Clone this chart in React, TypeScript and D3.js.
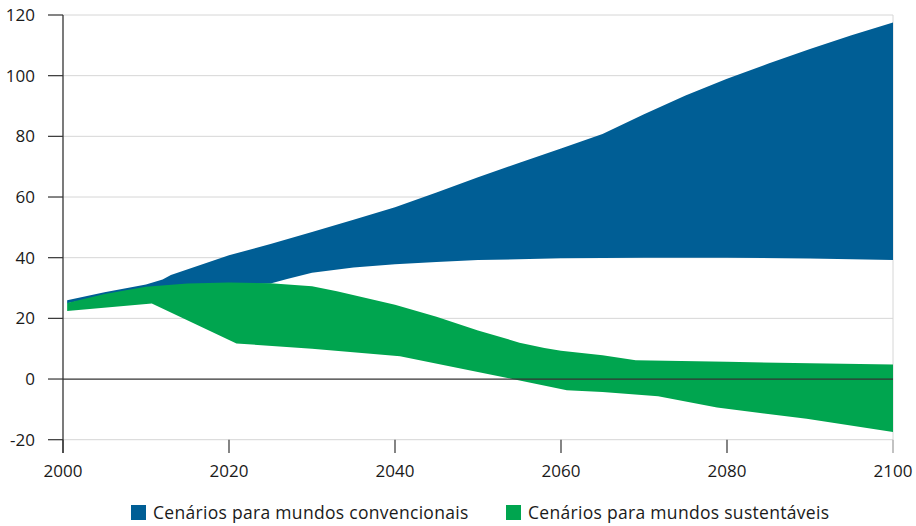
import React from "react";
import * as d3 from "d3";

const xTicks = [2000, 2020, 2040, 2060, 2080, 2100];
const yTicks = [-20, 0, 20, 40, 60, 80, 100, 120];

const blueTopYears = [2000.5, 2005, 2010, 2012, 2013, 2020, 2025, 2030, 2035, 2040, 2045, 2050, 2055, 2060, 2065, 2070, 2075, 2080, 2085, 2090, 2095, 2100];
const blueTop = [26, 28.6, 31.2, 32.8, 34.3, 40.8, 44.5, 48.5, 52.5, 56.6, 61.5, 66.5, 71.3, 76, 80.8, 87.3, 93.5, 99, 104, 108.8, 113.3, 117.5];
const blueBottomYears = [2000.5, 2010, 2020, 2025, 2027, 2030, 2035, 2040, 2045, 2050, 2060, 2070, 2080, 2090, 2100];
const blueBottom = [25, 30, 31, 31.5, 33, 35, 36.8, 37.8, 38.6, 39.2, 39.8, 40, 40, 39.7, 39.2];

const greenTopYears = [2000.5, 2005, 2010, 2015, 2020, 2025, 2030, 2033, 2040, 2045, 2050, 2055, 2058, 2060, 2065, 2069, 2080, 2090, 2100];
const greenTop = [25.1, 28, 30.4, 31.5, 31.8, 31.6, 30.6, 28.9, 24.5, 20.5, 16, 12, 10.2, 9.3, 7.8, 6.2, 5.7, 5.2, 4.8];
const greenBottomYears = [2000.5, 2010.7, 2020.9, 2030, 2040.6, 2047, 2054, 2060.7, 2065, 2071.7, 2078.8, 2089.6, 2100];
const greenBottom = [22.4, 24.9, 11.7, 10, 7.5, 4, 0.1, -3.7, -4.3, -5.7, -9.4, -13.1, -17.5];

const seriesNames = ["Cenários para mundos convencionais", "Cenários para mundos sustentáveis"];
const seriesColors = ["#005e95", "#00a54f"];

const FONT = "'Open Sans', sans-serif";

export default function App() {
  const W = 916, H = 526;
  const x = d3.scaleLinear().domain([2000, 2100]).range([63, 893]);
  const y = d3.scaleLinear().domain([-20, 120]).range([439.7, 15]);
  const line = d3.line<[number, number]>().x(d => x(d[0])).y(d => y(d[1]));

  const band = (ty: number[], tv: number[], by: number[], bv: number[]) => {
    const top: [number, number][] = ty.map((t, i) => [t, tv[i]]);
    const bot: [number, number][] = by.map((t, i) => [t, bv[i]]).reverse() as [number, number][];
    return line([...top, ...bot]) + "Z";
  };

  return (
    <svg width={W} height={H} style={{ position: "absolute", left: 0, top: 0, fontFamily: FONT }}>
      <rect width={W} height={H} fill="#fff" />
      {yTicks.filter(t => t !== 0).map(t => (
        <line key={"g" + t} x1={63} x2={893} y1={y(t)} y2={y(t)} stroke="#d6d6d6" strokeWidth={1} />
      ))}
      <line x1={893} x2={893} y1={y(120)} y2={y(-20)} stroke="#d6d6d6" strokeWidth={1} />
      <path d={band(blueTopYears, blueTop, blueBottomYears, blueBottom)} fill={seriesColors[0]} />
      <path d={band(greenTopYears, greenTop, greenBottomYears, greenBottom)} fill={seriesColors[1]} />
      <line x1={63} x2={893} y1={y(0)} y2={y(0)} stroke="#333" strokeWidth={1.3} />
      <line x1={63} x2={63} y1={y(120)} y2={453} stroke="#333" strokeWidth={1.3} />
      {yTicks.map(t => (
        <g key={"y" + t}>
          <line x1={48} x2={63} y1={y(t)} y2={y(t)} stroke="#333" strokeWidth={1.2} />
          <text x={35} y={y(t)} dy="0.36em" textAnchor="end" fontSize={17} fill="#1a1a1a">{t}</text>
        </g>
      ))}
      {xTicks.map(t => (
        <g key={"x" + t}>
          <line x1={x(t)} x2={x(t)} y1={y(-20)} y2={453} stroke={t === 2100 ? "#999" : "#333"} strokeWidth={1.2} />
          <text x={x(t)} y={477} textAnchor="middle" fontSize={17} fill="#1a1a1a">{t}</text>
        </g>
      ))}
      <g>
        <rect x={131} y={505} width={15} height={15} fill={seriesColors[0]} />
        <text x={153} y={519} fontSize={17.5} letterSpacing={0.3} fill="#1a1a1a">{seriesNames[0]}</text>
        <rect x={506} y={505} width={15} height={15} fill={seriesColors[1]} />
        <text x={528} y={519} fontSize={17.5} letterSpacing={0.3} fill="#1a1a1a">{seriesNames[1]}</text>
      </g>
    </svg>
  );
}
